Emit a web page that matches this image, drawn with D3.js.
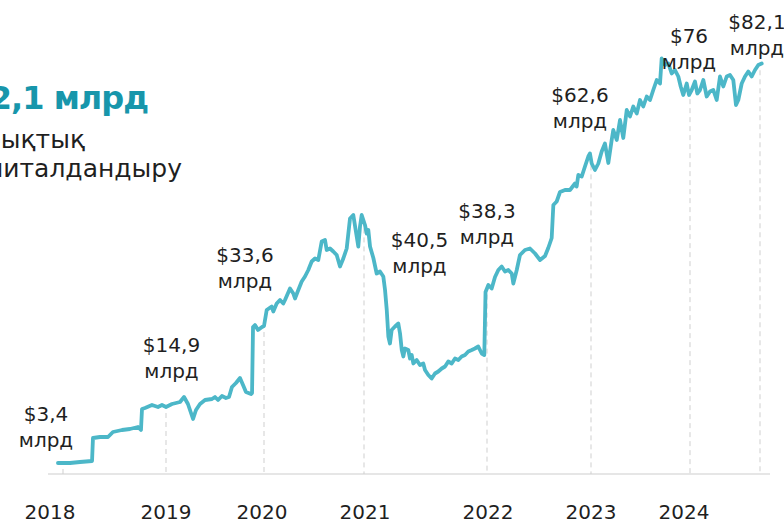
<!DOCTYPE html>
<html><head><meta charset="utf-8">
<script src="https://cdn.jsdelivr.net/npm/d3@7"></script>
<style>
html,body{margin:0;padding:0;background:#fff;}
svg{display:block;font-family:"DejaVu Sans",sans-serif;}
</style></head>
<body>
<svg id="chart" width="784" height="521"></svg>
<script>
// ---- data (fractional year, market cap in $ bn) ----
const dates = [
2017.951,2018.068,2018.165,2018.282,2018.291,2018.359,2018.437,2018.485,2018.573,2018.650,2018.728,2018.757,2018.767,2018.796,2018.864,2018.922,2018.961,
2019.000,2019.061,2019.143,2019.184,2019.224,2019.276,2019.306,2019.347,2019.398,2019.469,2019.500,2019.531,2019.571,2019.612,2019.643,2019.673,2019.714,2019.755,2019.786,2019.816,2019.867,2019.878,2019.888,2019.908,2019.939,2019.980,
2020.000,2020.027,2020.077,2020.093,2020.127,2020.160,2020.193,2020.210,2020.260,2020.293,2020.310,2020.343,2020.377,2020.410,2020.443,2020.477,2020.510,2020.543,2020.577,2020.610,2020.627,2020.660,2020.693,2020.727,2020.760,2020.793,2020.827,2020.860,2020.893,2020.927,2020.943,2020.960,2020.977,
2021.008,2021.022,2021.035,2021.049,2021.076,2021.103,2021.130,2021.157,2021.171,2021.185,2021.198,2021.211,2021.225,2021.252,2021.279,2021.293,2021.307,2021.320,2021.333,2021.360,2021.374,2021.388,2021.401,2021.428,2021.455,2021.482,2021.496,2021.523,2021.550,2021.577,2021.604,2021.632,2021.659,2021.685,2021.713,2021.740,2021.767,2021.794,2021.821,2021.848,2021.876,2021.902,2021.929,2021.957,2021.978,2021.988,
2022.013,2022.045,2022.077,2022.109,2022.141,2022.173,2022.205,2022.238,2022.253,2022.286,2022.317,2022.365,2022.413,2022.462,2022.510,2022.558,2022.589,2022.622,2022.638,2022.670,2022.702,2022.750,2022.798,2022.846,2022.862,2022.878,2022.911,2022.942,2022.974,2022.990,
2023.007,2023.040,2023.074,2023.108,2023.141,2023.175,2023.209,2023.225,2023.260,2023.293,2023.326,2023.361,2023.394,2023.427,2023.462,2023.495,2023.528,2023.563,2023.596,2023.629,2023.664,2023.697,2023.714,2023.747,2023.781,2023.815,2023.848,2023.882,2023.906,2023.932,2023.967,2023.990,
2024.017,2024.050,2024.073,2024.100,2024.133,2024.167,2024.200,2024.233,2024.267,2024.300,2024.333,2024.367,2024.400,2024.433,2024.460,2024.483,2024.517,2024.550,2024.583,2024.617,2024.650,2024.683,2024.717
];
const values = [
3.4,3.4,3.6,3.8,8.4,8.6,8.6,9.6,10.0,10.2,10.6,10.0,14.2,14.4,15.0,14.6,15.0,
14.6,15.2,15.6,16.6,15.2,12.2,14.0,15.2,16.0,16.2,16.6,16.0,16.8,16.4,16.6,18.6,19.4,20.4,19.0,17.6,17.2,17.4,30.6,31.0,30.0,30.6,
30.8,34.0,34.7,33.7,35.3,36.0,35.3,36.0,38.3,37.3,36.3,38.0,39.7,40.7,42.0,43.7,44.3,44.0,47.7,48.0,46.0,46.3,45.7,45.0,42.7,44.3,46.3,52.3,53.0,48.7,46.7,50.7,53.0,
51.0,49.3,50.0,46.7,44.4,41.3,41.7,40.7,38.0,34.0,28.7,27.3,30.0,30.7,31.3,29.3,26.0,24.7,26.3,26.0,24.3,25.0,23.3,24.0,23.0,23.3,22.0,21.0,20.3,21.3,21.7,22.3,22.7,23.7,23.3,24.3,24.0,24.7,25.0,25.7,26.0,26.3,26.7,25.3,25.0,37.6,
39.0,38.3,40.6,42.0,42.7,41.7,42.0,41.3,39.3,42.0,45.0,46.0,46.3,45.3,44.0,44.8,46.4,48.4,55.0,55.7,57.6,58.0,58.0,59.3,58.7,61.0,60.7,62.7,64.7,65.3,
63.3,62.0,63.3,65.7,67.3,63.4,68.0,70.0,68.0,72.0,68.4,74.0,72.7,74.7,73.3,76.0,74.7,76.7,76.0,78.0,80.0,79.3,84.3,83.0,83.3,81.3,82.0,80.7,78.7,77.0,79.3,77.0,
78.0,79.7,77.3,78.0,80.0,76.7,77.7,78.0,76.0,80.7,78.7,80.7,81.0,80.0,75.0,76.0,79.3,80.7,81.7,80.7,82.0,83.0,83.3
];
// annotated points
const markerDates  = [2018, 2019, 2020, 2021, 2022, 2023, 2024, 2024.7];
const markerLabels = ["$3,4", "$14,9", "$33,6", "$40,5", "$38,3", "$62,6", "$76", "$82,1"];
const unitLabel = "млрд";
// year tick labels
const yearLabels = ["2018","2019","2020","2021","2022","2023","2024"];
const yearLabelDates = [2017.874, 2019, 2019.98, 2021.008, 2022.01, 2023, 2023.94];
// headline
const titleText = "$82,1 млрд";
const subtitleLines = ["нарықтық", "капиталдандыру"];

// ---- layout ----
const axisY = 474;
const labelLayout = [ // [dx from marker, baseline of first line]
  [-17, 421], [5.5, 352], [-19, 262], [55.5, 247], [0, 218], [-11, 102], [-1, 43], [-3, 29]
];
const lineColor = "#4cb7c8", titleColor = "#1796ab", textColor = "#1f1f1f";

const svg = d3.select("#chart");

const x = d3.scaleLinear()
  .domain([2018, 2019, 2020, 2021, 2022, 2023, 2024, 2024.7])
  .range([63, 166, 264, 364, 487, 591, 690, 760]);
const y = d3.scaleLinear().domain([0, 80]).range([480, 80]);

const data = dates.map((d, i) => ({t: d, v: values[i]}));

// axis line
svg.append("line")
  .attr("x1", 48).attr("x2", 770).attr("y1", axisY).attr("y2", axisY)
  .attr("stroke", "#dedede").attr("stroke-width", 1.5);

// dashed guides
const bis = d3.bisector(d => d.t).left;
function valueAt(t) {
  const i = Math.min(Math.max(bis(data, t), 1), data.length - 1);
  const a = data[i - 1], b = data[i];
  const k = Math.max(0, Math.min(1, (t - a.t) / (b.t - a.t)));
  return a.v + (b.v - a.v) * k;
}
svg.append("g").selectAll("line").data(markerDates).join("line")
  .attr("x1", d => x(d)).attr("x2", d => x(d))
  .attr("y1", d => y(valueAt(d)) + 6).attr("y2", axisY)
  .attr("stroke", "#cfcfcf").attr("stroke-width", 1).attr("stroke-dasharray", "5,4");

// line
const line = d3.line().x(d => x(d.t)).y(d => y(d.v));
svg.append("path").datum(data)
  .attr("d", line).attr("fill", "none")
  .attr("stroke", lineColor).attr("stroke-width", 3.8)
  .attr("stroke-linejoin", "round").attr("stroke-linecap", "round");

// annotations
const ann = svg.append("g").attr("fill", textColor).attr("font-size", 20).attr("text-anchor", "middle");
markerDates.forEach((d, i) => {
  const cx = x(d) + labelLayout[i][0], by = labelLayout[i][1];
  ann.append("text").attr("x", cx).attr("y", by).text(markerLabels[i]);
  ann.append("text").attr("x", cx).attr("y", by + 25.5).text(unitLabel);
});

// year labels
svg.append("g").attr("fill", textColor).attr("font-size", 20).attr("text-anchor", "middle")
  .selectAll("text").data(yearLabels).join("text")
  .attr("x", (d, i) => x(yearLabelDates[i])).attr("y", 519).text(d => d);

// headline
svg.append("text").attr("x", 148).attr("y", 109).attr("text-anchor", "end")
  .attr("font-size", 32).attr("font-weight", "bold").attr("letter-spacing", -1)
  .attr("fill", titleColor).text(titleText);
svg.append("text").attr("x", 85).attr("y", 148).attr("text-anchor", "end")
  .attr("font-size", 25).attr("fill", textColor).text(subtitleLines[0]);
svg.append("text").attr("x", 182).attr("y", 177).attr("text-anchor", "end")
  .attr("font-size", 25).attr("fill", textColor).text(subtitleLines[1]);
</script>
</body></html>
